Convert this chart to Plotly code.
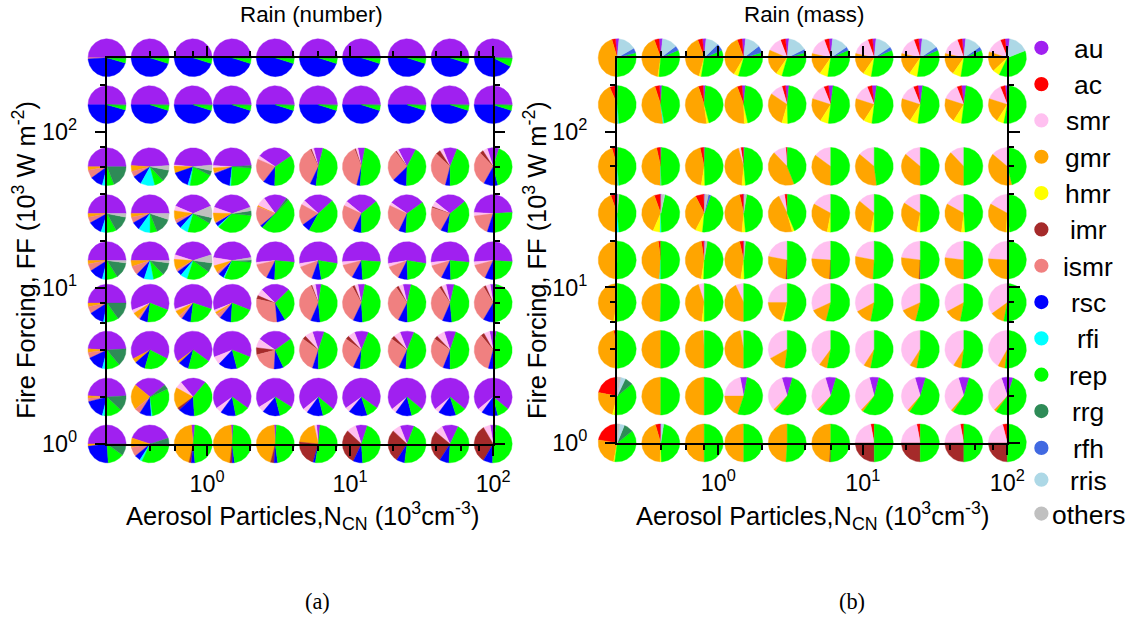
import math
import plotly.graph_objects as go

# ---------------- data ----------------
NCN = [0.2, 0.4, 0.8, 1.5, 3, 6, 12, 25, 50, 100]          # columns (10^3 cm^-3)
FF = [300, 150, 60, 30, 15, 8, 4, 2, 1]                     # rows top -> bottom (10^3 W m^-2)
CATEGORIES = ["au", "ac", "smr", "gmr", "hmr", "imr", "ismr", "rsc",
              "rfi", "rep", "rrg", "rfh", "rris", "others"]
Z = [0] * 10

# ---- Rain (number) : percent per pie, rows top->bottom ----
N_au = [[50, 50, 50, 50, 50, 50, 50, 50, 50, 50],
        [50, 50, 50, 50, 50, 50, 50, 50, 50, 50],
        [50, 48, 47, 48, 31, 8, 6, 15, 12, 10],
        [50, 50, 37, 39, 20, 26, 28, 30, 28, 48],
        [50, 50, 40, 45, 53, 55, 52, 55, 53, 52],
        [50, 62, 60, 62, 25, 5, 6, 7, 7, 5],
        [48, 65, 70, 62, 30, 10, 12, 12, 10, 6],
        [48, 28, 22, 70, 68, 72, 70, 72, 72, 72],
        [50, 40, 3, 2, 2, 3, 10, 12, 14, 5]]
N_smr = [Z, Z,
         [0, 0, 1, 2, 3, 2, 2, 2, 3, 4],
         [0, 0, 4, 5, 8, 4, 4, 3, 5, 3],
         [0, 0, 4, 7, 2, 3, 3, 3, 3, 3],
         [0, 3, 2, 2, 6, 3, 3, 4, 4, 4],
         [0, 0, 0, 7, 8, 7, 6, 6, 7, 5],
         [0, 0, 6, 5, 5, 4, 4, 4, 4, 4],
         [0, 0, 0, 0, 0, 2, 8, 7, 7, 6]]
N_gmr = [Z, Z,
         [3, 5, 6, 4, 0, 0, 0, 0, 0, 0],
         [3, 3, 8, 8, 1, 0, 0, 0, 0, 0],
         [3, 5, 9, 6, 0, 0, 0, 0, 0, 0],
         [3, 5, 5, 2, 0, 0, 0, 0, 0, 0],
         [3, 4, 2, 0, 0, 0, 0, 0, 0, 0],
         [2, 22, 18, 0, 0, 0, 0, 0, 0, 0],
         [2, 8, 45, 47, 45, 20, 0, 0, 0, 0]]
N_imr = [Z, Z,
         [0, 0, 0, 0, 0, 1, 1, 1, 4, 3],
         [0, 0, 0, 0, 0, 0, 0, 0, 1, 0],
         Z,
         [0, 0, 0, 0, 3, 1, 2, 2, 2, 2],
         [0, 0, 0, 0, 6, 3, 3, 3, 3, 3],
         [0, 0, 2, 0, 0, 0, 0, 0, 0, 0],
         [0, 0, 2, 2, 3, 22, 30, 28, 27, 33]]
N_ismr = [[1, 0, 0, 0, 0, 0, 0, 0, 0, 0],
          Z,
          [7, 5, 0, 1, 21, 36, 40, 27, 33, 30],
          [5, 5, 3, 1, 17, 18, 25, 25, 22, 18],
          [6, 8, 2, 2, 14, 14, 13, 12, 13, 14],
          [6, 2, 3, 4, 30, 37, 35, 33, 34, 33],
          [5, 0, 0, 0, 20, 30, 28, 28, 29, 35],
          [3, 5, 0, 0, 0, 0, 0, 0, 0, 0],
          [0, 8, 0, 0, 0, 0, 0, 0, 0, 0]]
N_rsc = [[44.5, 45, 45, 45, 45, 45, 45, 45, 45, 42.5],
         [45.5, 45, 45, 45, 45, 45, 45, 45, 45, 45],
         [11, 8, 15, 17, 10, 5, 3, 12, 4, 12],
         [12, 7, 5, 3, 2, 7, 7, 6, 6, 6],
         [12, 7, 4, 5, 7, 8, 9, 8, 8, 8],
         [13, 7, 8, 10, 7, 8, 8, 8, 8, 9],
         [14, 9, 9, 16, 8, 5, 6, 6, 6, 6],
         [17, 10, 14, 13, 15, 14, 16, 14, 15, 14],
         [24, 5, 3, 2, 3, 2, 8, 7, 8, 8]]
N_rfi = [Z, Z,
         [3, 12, 2, 1, 0, 0, 0, 0, 0, 0],
         [4, 10, 7, 1, 0, 0, 0, 0, 0, 0],
         [3, 8, 6, 1, 0, 0, 0, 0, 0, 0],
         [3, 0, 0, 0, 0, 0, 0, 0, 0, 0],
         [3, 0, 0, 0, 0, 0, 0, 0, 0, 0],
         [2, 1, 0, 0, 0, 0, 0, 0, 0, 0],
         [0, 2, 0, 0, 0, 0, 0, 0, 0, 0]]
N_rep = [[4, 4.5, 4.5, 4.5, 4.5, 4.5, 4.5, 4.5, 4.5, 7],
         [4, 4.5, 4.5, 4.5, 4.5, 4.5, 4.5, 4.5, 4.5, 4.5],
         [7, 8, 20, 25, 35, 48, 48, 43, 44, 41],
         [9, 6, 21, 36, 50, 45, 36, 36, 38, 25],
         [10, 9, 20, 30, 24, 20, 23, 22, 23, 23],
         [10, 21, 22, 20, 29, 46, 46, 46, 45, 47],
         [12, 22, 19, 15, 28, 45, 45, 45, 45, 45],
         [15, 30, 38, 12, 12, 10, 10, 10, 9, 10],
         [14, 30, 47, 47, 47, 51, 44, 46, 44, 48]]
N_rrg = [[0.5] * 10, [0.5] * 10,
         [19, 10, 4, 2, 0, 0, 0, 0, 0, 0],
         [14, 14, 5, 4, 2, 0, 0, 0, 0, 0],
         [14, 11, 8, 2, 0, 0, 0, 0, 0, 0],
         [15, 0, 0, 0, 0, 0, 0, 0, 0, 0],
         [15, 0, 0, 0, 0, 0, 0, 0, 0, 0],
         [13, 4, 0, 0, 0, 0, 0, 0, 0, 0],
         [10, 7, 0, 0, 0, 0, 0, 0, 0, 0]]
N_others = [Z, Z,
            [0, 4, 5, 0, 0, 0, 0, 0, 0, 0],
            [3, 5, 10, 3, 0, 0, 0, 0, 0, 0],
            [2, 2, 7, 2, 0, 0, 0, 0, 0, 0],
            Z, Z, Z, Z]

# ---- Rain (mass) ----
M_au = [[3, 3, 3, 3, 3, 3, 3, 3, 3, 4],
        [1, 2, 2, 3, 3, 4, 4, 4, 4, 4],
        [1, 1, 1, 1, 0.5, 0, 0, 0, 0, 0],
        [1, 1, 1, 1, 0.5, 0, 0, 0, 0, 0],
        [0, 0, 1, 1, 0, 0, 0, 0, 0, 0],
        Z, Z,
        [0, 0, 0, 6, 9, 9, 8, 9, 9, 10],
        [0, 1, 0, 0, 0, 0, 0, 0, 0, 0]]
M_ac = [[3, 4, 4, 4, 4, 4, 4, 4, 4, 4],
        [6, 4, 4, 4, 3, 4, 4, 4, 4, 4],
        [4, 3, 3, 2, 1, 0, 0, 0, 0, 0],
        [5, 5, 7, 3, 2, 0, 0, 0, 0, 0],
        [2, 2, 2, 3, 0, 0, 0, 0, 0, 0],
        Z,
        [3, 0, 0, 0, 0, 0, 0, 0, 0, 0],
        [22, 0, 0, 0, 0, 0, 0, 0, 0, 0],
        [22, 4, 0, 0, 0, 0, 3, 3, 3, 4]]
M_smr = [[0, 0, 0, 0, 13, 16, 16, 16, 16, 14],
         [0, 0, 0, 0, 11, 14, 14, 14, 14, 14],
         [0, 0, 0, 2, 11, 15, 14, 14, 12, 14],
         [0, 0, 0, 0, 5, 17, 14, 16, 17, 17],
         [0, 0, 0, 0, 22, 24, 22, 23, 23, 24],
         [0, 0, 5, 7, 25, 32, 33, 32, 33, 35],
         [0, 0, 1, 3, 33, 40, 41, 41, 41, 42],
         [0, 0, 0, 22, 33, 33, 34, 34, 34, 33],
         [0, 0, 0, 0, 0, 0, 22, 22, 22, 21]]
M_gmr = [[44, 42, 40, 36, 22, 19, 19, 19, 19, 17],
         [44, 47, 47, 45, 30, 21, 21, 21, 21, 21],
         [46, 46, 44, 44, 44, 35, 38, 36, 38, 40],
         [44, 38, 35, 45, 47, 30, 33, 31, 31, 32],
         [46, 47, 45, 44, 27, 25, 27, 26, 27, 26],
         [47, 49, 43, 43, 20, 14, 14, 14, 14, 12],
         [45, 50, 49, 47, 15, 7, 6, 6, 7, 6],
         [24, 50, 50, 20, 2, 2, 2, 2, 2, 2],
         [24, 45, 50, 50, 49, 49, 0, 0, 0, 0]]
M_hmr = [[0, 1, 2, 4, 5, 7, 7, 7, 7, 6],
         [0, 0, 2, 3, 5, 7, 7, 7, 7, 6],
         [0, 0, 3, 3, 0, 0, 0, 0, 0, 0],
         [0, 6, 6, 3, 2, 3, 3, 3, 3, 3],
         [1, 0, 2, 3, 0, 0, 0, 0, 0, 0],
         [2, 0, 2, 0, 2, 0, 0, 0, 0, 0],
         [2, 0, 0, 0, 0, 0, 0, 0, 0, 0],
         [2, 0, 0, 0, 0, 0, 0, 0, 0, 0],
         [1, 1, 0, 0, 0, 0, 0, 0, 0, 0]]
M_imr = [Z, Z, Z, Z,
         [0, 0, 0, 0, 1, 1, 0, 1, 0, 0],
         Z, Z, Z,
         [0, 0, 0, 0, 0, 1, 25, 25, 25, 25]]
M_rfi = [[1, 0, 0, 0, 0, 0, 0, 0, 0, 0],
         [1, 1, 0, 0, 0, 0, 0, 0, 0, 0],
         [1, 0.5, 0, 0, 0, 0, 0, 0, 0, 0],
         [2, 1, 0, 0, 0, 0, 0, 0, 0, 0],
         [0, 1, 0, 0, 0, 0, 0, 0, 0, 0],
         Z, Z, Z, Z]
M_rep = [[29, 33, 34, 34, 34, 34, 34, 34, 34, 38],
         [48, 46, 45, 45, 48, 50, 50, 50, 50, 51],
         [48, 48.5, 49, 48, 44, 50, 48, 50, 50, 46],
         [47, 46, 46, 46, 43.5, 50, 50, 50, 49, 48],
         [51, 50, 48, 48, 50, 50, 51, 50, 50, 50],
         [51, 50, 50, 50, 53, 54, 53, 54, 53, 53],
         [50, 50, 50, 50, 52, 53, 53, 53, 52, 52],
         [38, 50, 50, 52, 56, 56, 56, 55, 55, 55],
         [37, 47, 50, 50, 51, 50, 50, 50, 50, 50]]
M_rrg = [Z, Z, Z, Z, Z, Z, Z,
         [7, 0, 0, 0, 0, 0, 0, 0, 0, 0],
         [8, 0, 0, 0, 0, 0, 0, 0, 0, 0]]
M_rfh = [[4, 4, 6, 6, 3, 3, 3, 3, 3, 0],
         Z, Z,
         [0, 0, 2, 0, 0, 0, 0, 0, 0, 0],
         Z, Z, Z, Z, Z]
M_rris = [[15, 13, 11, 13, 16, 14, 14, 14, 14, 17],
          Z, Z,
          [0, 1, 0, 0, 0, 0, 0, 0, 0, 0],
          Z, Z, Z,
          [4, 0, 0, 0, 0, 0, 0, 0, 0, 0],
          [4, 2, 0, 0, 0, 0, 0, 0, 0, 0]]
M_others = [Z, Z, Z,
            [1, 2, 3, 2, 0, 0, 0, 0, 0, 0],
            [0, 0, 2, 1, 0, 0, 0, 0, 0, 0],
            Z, Z,
            [3, 0, 0, 0, 0, 0, 0, 0, 0, 0],
            [2, 0, 0, 0, 0, 0, 0, 0, 0, 0]]

NUMBER = {"au": N_au, "smr": N_smr, "gmr": N_gmr, "imr": N_imr, "ismr": N_ismr,
          "rsc": N_rsc, "rfi": N_rfi, "rep": N_rep, "rrg": N_rrg, "others": N_others}
MASS = {"au": M_au, "ac": M_ac, "smr": M_smr, "gmr": M_gmr, "hmr": M_hmr, "imr": M_imr,
        "rfi": M_rfi, "rep": M_rep, "rrg": M_rrg, "rfh": M_rfh, "rris": M_rris,
        "others": M_others}

# ---------------- style / layout ----------------
COLORS = {"au": "#a020f0", "ac": "#ff0000", "smr": "#ffc0f0", "gmr": "#ffa500",
          "hmr": "#ffff00", "imr": "#a52a2a", "ismr": "#f08080", "rsc": "#0000ff",
          "rfi": "#00ffff", "rep": "#00ff00", "rrg": "#2e8b57", "rfh": "#4169e1",
          "rris": "#add8e6", "others": "#c0c0c0"}
S = 0.984                 # capture scale observed for the page
WF, HF = 1151, 630        # figure size in CSS px
FONT = "Liberation Sans, Arial, sans-serif"
R_PX = 19
PAD = 26
FRAMES = {"a": (107, 493, 58, 446), "b": (617, 1007, 58, 445)}


def fx(t):
    return (t / S) / WF


def fy(t):
    return 1 - (t / S) / HF


def px(v):
    return v / S


def geometry(frame):
    x0, x1, y0, y1 = frame
    lx0, lx1 = math.log10(min(NCN)), math.log10(max(NCN))
    ly0, ly1 = math.log10(min(FF)), math.log10(max(FF))
    kx = (x1 - x0) / (lx1 - lx0)
    ky = (y1 - y0) / (ly1 - ly0)
    return lx0, lx1, ly0, ly1, kx, ky


def pie_traces(data, frame, xa, ya):
    lx0, lx1, ly0, ly1, kx, ky = geometry(frame)
    xs = {c: [] for c in CATEGORIES}
    ys = {c: [] for c in CATEGORIES}
    for i, ff in enumerate(FF):
        for j, n in enumerate(NCN):
            vals = [data[c][i][j] if c in data else 0 for c in CATEGORIES]
            tot = float(sum(vals))
            cxl, cyl = math.log10(n), math.log10(ff)
            theta = -0.5 * vals[0] / tot * 360.0
            for c, v in zip(CATEGORIES, vals):
                if v <= 0:
                    continue
                span = v / tot * 360.0
                npts = max(2, int(span / 2) + 2)
                pxs = [n]
                pys = [ff]
                for k in range(npts):
                    t = math.radians(90 + theta + span * k / (npts - 1))
                    pxs.append(10 ** (cxl + R_PX * math.cos(t) / kx))
                    pys.append(10 ** (cyl + R_PX * math.sin(t) / ky))
                pxs.append(n)
                pys.append(ff)
                xs[c] += pxs + [None]
                ys[c] += pys + [None]
                theta += span
    out = []
    for c in CATEGORIES:
        if xs[c]:
            out.append(go.Scatter(x=xs[c], y=ys[c], mode="lines", fill="toself",
                                  fillcolor=COLORS[c], line=dict(color=COLORS[c], width=0.4),
                                  xaxis=xa, yaxis=ya, hoverinfo="skip", showlegend=False))
    return out


def pie_axes(frame):
    x0, x1, y0, y1 = frame
    lx0, lx1, ly0, ly1, kx, ky = geometry(frame)
    xa = dict(type="log", domain=[fx(x0 - PAD), fx(x1 + PAD)],
              range=[lx0 - PAD / kx, lx1 + PAD / kx], visible=False)
    ya = dict(type="log", domain=[fy(y1 + PAD), fy(y0 - PAD)],
              range=[ly0 - PAD / ky, ly1 + PAD / ky], visible=False)
    return xa, ya


TICKTEXT = ["10<sup>0</sup>", "10<sup>1</sup>", "10<sup>2</sup>"]


def frame_axes(frame, anchor_x, anchor_y):
    x0, x1, y0, y1 = frame
    lx0, lx1, ly0, ly1, kx, ky = geometry(frame)
    common = dict(type="log", showline=True, linecolor="black", linewidth=2,
                  mirror="allticks", ticks="outside", ticklen=px(10), tickwidth=2,
                  tickcolor="black", tickvals=[1, 10, 100], ticktext=TICKTEXT,
                  tickfont=dict(family=FONT, size=px(23), color="black"),
                  showgrid=False, zeroline=False)
    minor = dict(ticks="outside", ticklen=px(5), tickwidth=1.5, tickcolor="black",
                 showgrid=False)
    xa = dict(common, domain=[fx(x0), fx(x1)], range=[lx0, lx1], anchor=anchor_y,
              ticklabelstandoff=8,
              minor=dict(minor, tickvals=[0.4, 0.6, 0.8, 2, 4, 6, 8, 20, 40, 60, 80]))
    ya = dict(common, domain=[fy(y1), fy(y0)], range=[ly0, ly1], anchor=anchor_x,
              ticklabelstandoff=13,
              minor=dict(minor, tickvals=[2, 4, 6, 8, 20, 40, 60, 80, 200]))
    return xa, ya


fig = go.Figure()
for t in pie_traces(NUMBER, FRAMES["a"], "x", "y"):
    fig.add_trace(t)
for t in pie_traces(MASS, FRAMES["b"], "x2", "y2"):
    fig.add_trace(t)
fig.add_trace(go.Scatter(x=[None], y=[None], xaxis="x3", yaxis="y3", showlegend=False))
fig.add_trace(go.Scatter(x=[None], y=[None], xaxis="x4", yaxis="y4", showlegend=False))

pxa, pya = pie_axes(FRAMES["a"])
pxb, pyb = pie_axes(FRAMES["b"])
fxa, fya = frame_axes(FRAMES["a"], "x3", "y3")
fxb, fyb = frame_axes(FRAMES["b"], "x4", "y4")
pxa["anchor"] = "y"; pya["anchor"] = "x"
pxb["anchor"] = "y2"; pyb["anchor"] = "x2"

fig.update_layout(
    width=WF, height=HF, margin=dict(l=0, r=0, t=0, b=0),
    paper_bgcolor="white", plot_bgcolor="rgba(0,0,0,0)", showlegend=False,
    xaxis=pxa, yaxis=pya, xaxis2=pxb, yaxis2=pyb,
    xaxis3=fxa, yaxis3=fya, xaxis4=fxb, yaxis4=fyb,
)

ann = []


def txt(x, y, s, size=21, family=FONT, angle=0, xanchor="center"):
    ann.append(dict(x=fx(x), y=fy(y), xref="paper", yref="paper", text=s,
                    showarrow=False, textangle=angle, xanchor=xanchor, yanchor="middle",
                    font=dict(family=family, size=px(size), color="black")))


txt(311, 15, "Rain (number)", size=22)
txt(804, 15, "Rain (mass)", size=22)
XT = "Aerosol Particles,N<sub>CN</sub> (10<sup>3</sup>cm<sup>-3</sup>)"
YT = "Fire Forcing, FF (10<sup>3</sup> W m<sup>-2</sup>)"
txt(302, 518, XT, size=25)
txt(812, 518, XT, size=25)
txt(24, 261, YT, size=25, angle=-90)
txt(535, 261, YT, size=25, angle=-90)
txt(317, 604, "(a)", size=22, family="Liberation Serif, Times New Roman, serif")
txt(852, 604, "(b)", size=22, family="Liberation Serif, Times New Roman, serif")

LEG_Y = [48, 84.5, 121, 157.5, 194, 230.5, 267, 303.5, 340, 376.5, 413, 450, 482, 516]
shapes = []
for c, ly in zip(CATEGORIES, LEG_Y):
    shapes.append(dict(type="circle", xref="paper", yref="paper", xsizemode="pixel",
                       ysizemode="pixel", xanchor=fx(1041), yanchor=fy(ly),
                       x0=-px(7), x1=px(7), y0=-px(7), y1=px(7), fillcolor=COLORS[c],
                       line=dict(width=0)))
    txt(1088, ly + 1, c, size=26)

fig.update_layout(annotations=ann, shapes=shapes)
fig.write_html("out.html")
